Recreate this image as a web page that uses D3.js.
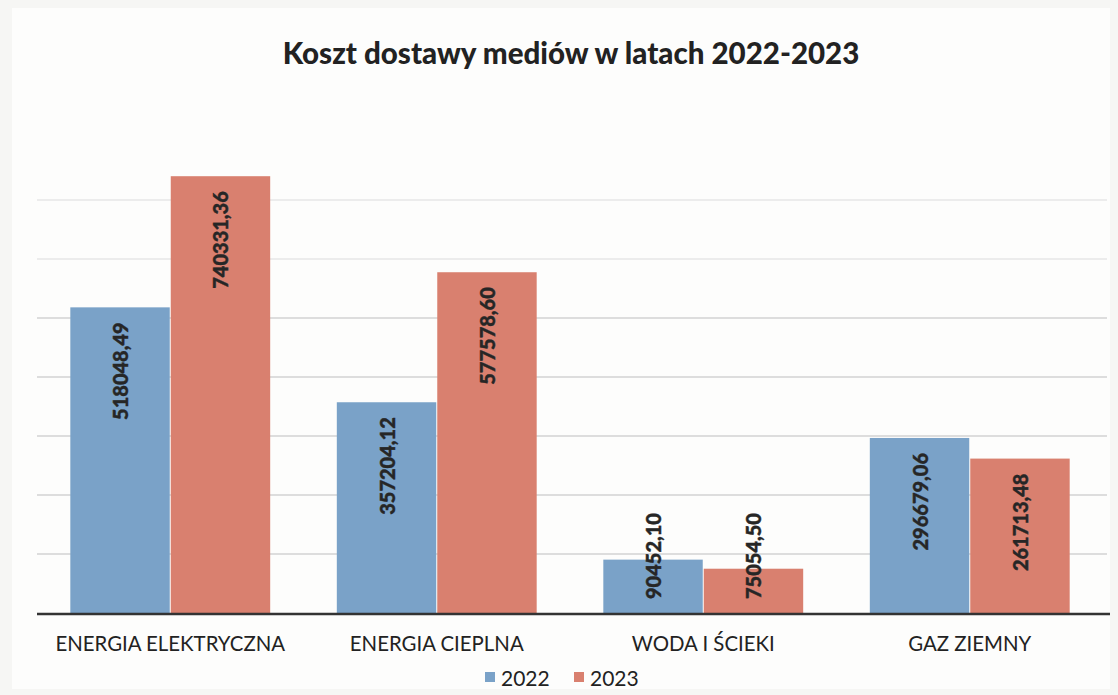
<!DOCTYPE html>
<html><head><meta charset="utf-8">
<script src="https://cdn.jsdelivr.net/npm/d3@7"></script>
<style>
html,body{margin:0;padding:0;background:#f6f6f4;}
svg{display:block;}
</style></head>
<body>
<svg id="chart" width="1118" height="695"></svg>
<script>
const title = "Koszt dostawy mediów w latach 2022-2023";
const categories = ["ENERGIA ELEKTRYCZNA", "ENERGIA CIEPLNA", "WODA I ŚCIEKI", "GAZ ZIEMNY"];
const seriesNames = ["2022", "2023"];
const values2022 = [518048.49, 357204.12, 90452.10, 296679.06];
const values2023 = [740331.36, 577578.60, 75054.50, 261713.48];
const labels2022 = ["518048,49", "357204,12", "90452,10", "296679,06"];
const labels2023 = ["740331,36", "577578,60", "75054,50", "261713,48"];
const gridTicks = [100000, 200000, 300000, 400000, 500000, 600000, 700000];
const colors = ["#7aa2c8", "#d9806f"];

const font = "Lato, 'Open Sans', sans-serif";
const svg = d3.select("#chart");
const W = 1118, H = 695;

svg.append("rect").attr("x",12).attr("y",8).attr("width",W-20).attr("height",H-14).attr("fill","#fdfdfc");

const x0 = d3.scaleBand().domain(categories).range([37, 1103]).paddingInner(0.25).paddingOuter(0.125);
const x1 = d3.scaleBand().domain(seriesNames).range([0, x0.bandwidth()]).paddingInner(0.01);
const y = d3.scaleLinear().domain([0, 800000]).range([613, 141]);

// gridlines
svg.append("g").selectAll("line").data(gridTicks).join("line")
  .attr("x1", 37).attr("x2", 1107)
  .attr("y1", d => y(d)).attr("y2", d => y(d))
  .attr("stroke", d => d >= 600000 ? "#dcdcdc" : "#bdbdbd").attr("stroke-width", 1.2);

const data = categories.map((c,i) => ({cat:c, vals:[
  {s:"2022", v:values2022[i], l:labels2022[i], c:colors[0]},
  {s:"2023", v:values2023[i], l:labels2023[i], c:colors[1]}]}));

const groups = svg.append("g").selectAll("g").data(data).join("g")
  .attr("transform", d => `translate(${x0(d.cat)},0)`);

groups.selectAll("rect").data(d => d.vals).join("rect")
  .attr("x", d => x1(d.s)).attr("width", x1.bandwidth())
  .attr("y", d => y(d.v)).attr("height", d => y(0) - y(d.v))
  .attr("fill", d => d.c);

// baseline
svg.append("line").attr("x1",37).attr("x2",1110).attr("y1",y(0)+1).attr("y2",y(0)+1)
  .attr("stroke","#333").attr("stroke-width",2.5);

// value labels rotated
groups.selectAll("text.val").data(d => d.vals).join("text")
  .attr("class","val")
  .attr("font-family", font).attr("font-weight", 900).attr("font-size", 20)
  .attr("fill", "#262626").attr("stroke", "#262626").attr("stroke-width", 0.4)
  .attr("text-anchor", "end")
  .attr("dominant-baseline", "central")
  .text(d => d.l)
  .each(function(d){
    const len = this.getComputedTextLength();
    const cx = x1(d.s) + x1.bandwidth()/2;
    let top = y(d.v) + 15;
    if (top + len > y(0) - 14) top = y(0) - 14 - len;
    d3.select(this).attr("transform", `translate(${cx},${top}) rotate(-90)`);
  });

// category labels
svg.append("g").selectAll("text").data(categories).join("text")
  .attr("x", d => x0(d) + x0.bandwidth()/2).attr("y", 651)
  .attr("text-anchor","middle").attr("font-family", font).attr("font-size", 20.4)
  .attr("fill","#222").text(d => d);

// title
svg.append("text").attr("x", 571).attr("y", 64).attr("text-anchor","middle")
  .attr("font-family", font).attr("font-weight", 900).attr("font-size", 29.5)
  .attr("fill","#222").text(title);

// legend
const leg = svg.append("g");
const legX = [485, 574];
seriesNames.forEach((s,i) => {
  leg.append("rect").attr("x", legX[i]).attr("y", 672).attr("width", 10).attr("height", 10).attr("fill", colors[i]);
  leg.append("text").attr("x", legX[i]+16).attr("y", 686).attr("font-family", font)
    .attr("font-size", 21).attr("fill","#222").text(s);
});
</script>
</body></html>
